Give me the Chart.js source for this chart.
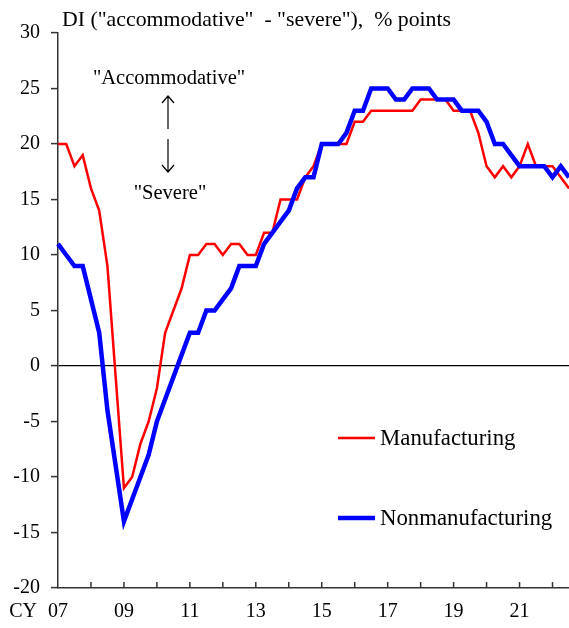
<!DOCTYPE html>
<html>
<head>
<meta charset="utf-8">
<script src="https://cdn.jsdelivr.net/npm/chart.js@4/dist/chart.umd.min.js"></script>
<style>
  html, body { margin: 0; padding: 0; background: #fff; }
  #wrap { width: 569px; height: 628px; position: relative; }
</style>
</head>
<body>
<div id="wrap"><canvas id="chart"></canvas></div>
<script>
// quarterly, CY2007 Q1 .. CY2022 Q3
const quarters = [];
for (let y = 2007; y <= 2022; y++) {
    for (let q = 1; q <= 4; q++) {
        if (y === 2022 && q > 3) break;
        quarters.push(y + 'Q' + q);
    }
}

const manufacturing = [
    20, 20, 18, 19, 16, 14, 9, -1, -11, -10,
    -7, -5, -2, 3, 5, 7, 10, 10, 11, 11,
    10, 11, 11, 10, 10, 12, 12, 15, 15, 15,
    17, 18, 20, 20, 20, 20, 22, 22, 23, 23,
    23, 23, 23, 23, 24, 24, 24, 24, 23, 23,
    23, 21, 18, 17, 18, 17, 18, 20, 18, 18,
    18, 17, 16
];

const nonmanufacturing = [
    11, 10, 9, 9, 6, 3, -4, -9, -14, -12,
    -10, -8, -5, -3, -1, 1, 3, 3, 5, 5,
    6, 7, 9, 9, 9, 11, 12, 13, 14, 16,
    17, 17, 20, 20, 20, 21, 23, 23, 25, 25,
    25, 24, 24, 25, 25, 25, 24, 24, 24, 23,
    23, 23, 22, 20, 20, 19, 18, 18, 18, 18,
    17, 18, 17
];

const yMin = -20, yMax = 30, yStep = 5;
const seriesNames = ['Manufacturing', 'Nonmanufacturing'];

const serif = "'Liberation Serif', 'Times New Roman', serif";
const axisColor = '#333';

// x labels: "07", "09", ... at Q1 of odd years
function xLabel(i) {
    const lab = quarters[i];
    const yr = parseInt(lab.slice(0, 4));
    if (lab.endsWith('Q1') && yr % 2 === 1) return lab.slice(2, 4);
    return '';
}

const extras = {
    id: 'extras',
    afterDraw(chart) {
        const ctx = chart.ctx;
        const xs = chart.scales.x, ys = chart.scales.y;
        ctx.save();

        // inward tick marks at each year
        ctx.strokeStyle = axisColor;
        ctx.lineWidth = 1.5;
        quarters.forEach((q, i) => {
            if (!q.endsWith('Q1') || i === 0) return;
            const px = xs.getPixelForValue(i);
            ctx.beginPath();
            ctx.moveTo(px, ys.bottom);
            ctx.lineTo(px, ys.bottom - 6);
            ctx.stroke();
        });

        ctx.fillStyle = '#000';
        ctx.font = '20px ' + serif;
        ctx.textBaseline = 'middle';
        ctx.textAlign = 'right';
        ctx.fillText('CY', 37, 612);

        // title
        ctx.font = '21.8px ' + serif;
        ctx.textAlign = 'left';
        ctx.fillText('DI ("accommodative"  - "severe"),  % points', 62, 20);

        // direction note
        ctx.font = '20.5px ' + serif;
        ctx.textAlign = 'center';
        ctx.fillText('"Accommodative"', 169, 79);
        ctx.fillText('"Severe"', 170, 194);
        ctx.strokeStyle = '#000';
        ctx.lineWidth = 1.2;
        ctx.beginPath();
        ctx.moveTo(168, 96); ctx.lineTo(168, 129);
        ctx.moveTo(162, 103); ctx.lineTo(168, 96); ctx.lineTo(174, 103);
        ctx.moveTo(168, 139); ctx.lineTo(168, 172);
        ctx.moveTo(162, 165); ctx.lineTo(168, 172); ctx.lineTo(174, 165);
        ctx.stroke();

        // legend
        const legendRows = [438, 518];
        chart.data.datasets.forEach((ds, k) => {
            const ly = legendRows[k];
            ctx.strokeStyle = ds.borderColor;
            ctx.lineWidth = ds.borderWidth;
            ctx.beginPath();
            ctx.moveTo(338, ly);
            ctx.lineTo(375, ly);
            ctx.stroke();
            ctx.fillStyle = '#000';
            ctx.font = '22.8px ' + serif;
            ctx.textAlign = 'left';
            ctx.fillText(ds.label, 380, ly + 1);
        });

        ctx.restore();
    }
};

new Chart(document.getElementById('chart'), {
    type: 'line',
    data: {
        labels: quarters,
        datasets: [
            {
                label: seriesNames[0],
                data: manufacturing,
                borderColor: '#ff0000',
                borderWidth: 2.5,
                pointRadius: 0,
                tension: 0,
                order: 1
            },
            {
                label: seriesNames[1],
                data: nonmanufacturing,
                borderColor: '#0000ff',
                borderWidth: 4.5,
                pointRadius: 0,
                tension: 0,
                order: 0
            }
        ]
    },
    options: {
        responsive: true,
        maintainAspectRatio: false,
        animation: false,
        layout: { padding: { top: 33, right: 0, left: 0, bottom: 0 } },
        plugins: {
            legend: { display: false },
            tooltip: { enabled: false },
            title: { display: false }
        },
        scales: {
            x: {
                type: 'category',
                offset: false,
                afterFit(scale) {
                    scale.height = 40;
                    scale.paddingLeft = 0;
                    scale.paddingRight = 0;
                },
                grid: { display: false, drawTicks: false },
                border: { display: true, color: axisColor, width: 1.5 },
                ticks: {
                    autoSkip: false,
                    maxRotation: 0,
                    minRotation: 0,
                    padding: 12,
                    color: '#000',
                    font: { family: serif, size: 20 },
                    callback: (v, i) => xLabel(i)
                }
            },
            y: {
                min: yMin,
                max: yMax,
                afterFit(scale) {
                    scale.width = 58;
                    scale.paddingTop = 0;
                    scale.paddingBottom = 0;
                },
                border: { display: true, color: axisColor, width: 1.5 },
                grid: {
                    drawOnChartArea: true,
                    color: c => (c.tick && c.tick.value === 0) ? '#000' : 'rgba(0,0,0,0)',
                    lineWidth: 1.2,
                    tickColor: axisColor,
                    tickLength: 7,
                    tickWidth: 1.5
                },
                ticks: {
                    stepSize: yStep,
                    padding: 11,
                    color: '#000',
                    font: { family: serif, size: 20 }
                }
            }
        }
    },
    plugins: [extras]
});
</script>
</body>
</html>
